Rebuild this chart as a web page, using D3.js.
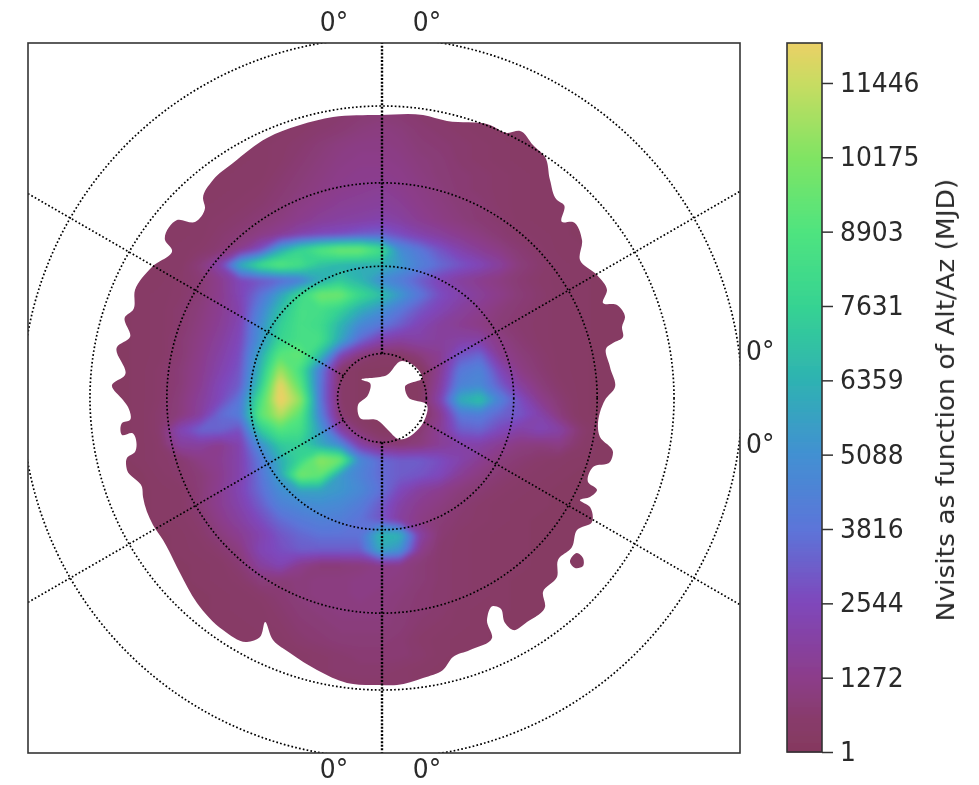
<!DOCTYPE html>
<html><head><meta charset="utf-8">
<style>html,body{margin:0;padding:0;background:#fff}svg{display:block}text{font-family:"DejaVu Sans";fill:#2a2a2a}</style>
<script src="https://cdnjs.cloudflare.com/ajax/libs/d3/7.8.5/d3.min.js"></script>
</head><body><svg id="c" width="979" height="785"></svg>
<script>
const colorbarTicks=[1,1272,2544,3816,5088,6359,7631,8903,10175,11446];
const colorbarMax=12130;
const colorbarLabel="Nvisits as function of Alt/Az (MJD)";
const ringZenithDeg=[10,30,50,70,90];
const spokeAzimuthDeg=[30,90,150,210,270,330];
const cornerLabel="0°";
const colorStopValues=[1,600,1272,2544,3816,5088,6359,7631,8903,10175,11446,12130];
const colorStopHex=["#85395e","#883b6c","#8c3d8a","#7f47bb","#5c75d9","#4290d2","#2eb2b2","#36d392","#4fe47f","#80e463","#c8dc62","#ebd066"];
// Nvisits in hundreds; rows run downward from the top of the footprint, columns left to right
const nvisitsHundreds=[
[3,3,3,3,3,3,3,3,3,4,4,5,6,7,8,7,6,5,4,4,3,3,3,3,3,3,3,3],
[3,3,3,3,3,3,3,3,4,4,5,6,7,8,9,8,7,6,5,4,4,3,3,3,3,3,3,3],
[3,3,3,3,3,3,3,4,4,5,6,7,8,10,11,10,8,7,6,5,4,4,3,3,3,3,3,3],
[3,3,3,3,3,3,4,4,5,6,7,9,11,12,12,11,9,8,7,6,5,4,3,3,3,3,3,3],
[3,3,3,3,3,3,4,4,5,6,8,10,12,13,13,12,10,9,7,6,5,4,4,3,3,3,3,3],
[3,3,3,3,3,4,4,5,5,7,9,11,13,14,14,13,11,9,8,7,6,5,4,3,3,3,3,3],
[3,3,3,3,3,4,4,5,6,8,10,12,14,15,16,14,12,10,8,7,6,5,4,4,3,3,3,3],
[3,3,3,3,4,4,5,6,7,9,12,14,16,17,18,16,13,11,9,8,6,5,4,4,3,3,3,3],
[3,3,3,3,4,5,6,7,9,11,14,17,19,20,22,19,15,12,10,8,7,5,4,4,3,3,3,3],
[3,3,3,4,4,5,7,9,12,16,22,26,28,32,34,28,22,18,14,11,8,6,5,4,3,3,3,3],
[3,3,3,4,5,6,8,14,28,60,78,90,98,98,85,50,40,30,22,16,12,8,6,4,4,3,3,3],
[3,3,4,4,5,10,22,62,82,92,85,70,65,62,65,55,44,36,30,25,18,10,7,5,4,3,3,3],
[3,3,4,4,6,8,14,25,30,35,42,60,72,65,50,42,32,24,18,14,11,8,6,5,4,3,3,3],
[3,3,4,5,6,9,14,24,38,58,80,98,98,80,70,55,40,28,22,17,13,9,7,5,4,3,3,3],
[3,3,4,5,7,10,15,22,45,68,85,84,76,62,52,40,30,24,18,14,10,8,6,5,4,3,3,3],
[3,3,4,5,7,11,16,24,50,75,85,82,65,48,40,32,24,18,15,12,9,7,6,5,4,3,3,3],
[3,3,4,5,8,12,18,26,52,78,85,85,60,35,22,18,20,18,20,20,12,8,6,5,4,3,3,3],
[3,3,4,5,8,13,20,28,60,92,95,68,25,10,5,5,10,15,30,35,15,10,7,5,4,3,3,3],
[3,3,4,6,9,14,22,30,65,108,85,42,6,3,3,3,3,15,40,45,25,12,8,5,4,3,3,3],
[3,3,4,6,9,15,25,32,72,122,92,40,6,3,3,3,3,18,45,48,32,18,10,6,4,3,3,3],
[3,3,4,6,10,17,26,40,85,125,105,40,6,3,3,3,3,22,62,70,45,28,14,8,4,3,3,3],
[3,3,4,7,10,18,36,42,92,112,92,45,8,3,3,3,3,14,40,42,34,30,22,10,4,3,3,3],
[3,3,4,7,24,34,34,28,72,90,85,55,20,8,3,3,8,16,32,34,26,20,24,20,8,3,3,3],
[3,3,4,6,18,18,14,22,50,72,75,60,48,20,10,8,10,16,20,20,15,11,10,12,6,3,3,3],
[3,3,4,6,7,12,15,22,40,62,78,105,98,48,36,32,32,28,22,15,10,8,6,5,4,3,3,3],
[3,3,3,5,7,9,14,22,38,58,100,95,55,45,36,32,30,26,16,11,8,6,5,4,3,3,3,3],
[3,3,3,4,5,9,15,24,36,50,58,58,54,48,38,26,18,14,10,8,6,5,4,3,3,3,3,3],
[3,3,3,4,5,9,15,22,32,44,48,50,48,42,32,20,14,11,8,6,5,4,4,3,3,3,3,3],
[3,3,3,4,5,7,13,19,27,36,41,44,43,38,30,18,12,9,7,6,5,4,3,3,3,3,3,3],
[3,3,3,3,4,6,10,15,22,30,35,38,38,38,66,64,20,8,6,5,4,4,3,3,3,3,3,3],
[3,3,3,3,4,5,7,11,24,28,32,32,32,32,60,52,14,7,6,5,4,4,3,3,3,3,3,3],
[3,3,3,3,3,4,5,8,18,24,14,9,9,10,12,12,9,7,6,5,4,4,3,3,3,3,3,3],
[3,3,3,3,3,4,5,6,10,9,10,11,11,12,12,11,9,7,6,5,4,3,3,3,3,3,3,3],
[3,3,3,3,3,3,4,5,6,8,10,11,11,12,11,10,8,7,6,5,4,3,3,3,3,3,3,3],
[3,3,3,3,3,3,4,5,5,7,9,10,11,11,11,9,8,7,5,4,4,3,3,3,3,3,3,3],
[3,3,3,3,3,3,4,4,5,6,8,9,10,10,10,9,7,6,5,4,3,3,3,3,3,3,3,3],
[3,3,3,3,3,3,3,4,4,5,7,8,9,9,9,8,6,5,4,4,3,3,3,3,3,3,3,3],
[3,3,3,3,3,3,3,3,4,4,5,6,7,8,8,8,7,5,4,4,3,3,3,3,3,3,3,3],
[3,3,3,3,3,3,3,3,3,4,5,6,7,7,7,6,5,4,3,3,3,3,3,3,3,3,3,3],
[3,3,3,3,3,3,3,3,3,3,4,5,5,6,6,6,5,4,3,3,3,3,3,3,3,3,3,3],
[3,3,3,3,3,3,3,3,3,3,3,3,3,3,3,3,3,3,3,3,3,3,3,3,3,3,3,3]
];
const gridExtentX=[-282,258];
const gridExtentY=[298,-302];
const footprintOutline=[[-2,283],[41,283],[65,277],[108,273],[125,265],[138,267],[151,253],[163,241],[168,218],[175,198],[182,193],[180,176],[191,176],[200,158],[198,138],[215,123],[225,108],[221,95],[235,93],[243,81],[240,71],[241,61],[231,55],[225,51],[228,31],[233,11],[223,-2],[218,-39],[231,-54],[228,-64],[211,-69],[206,-84],[215,-92],[208,-99],[198,-102],[208,-109],[210,-124],[195,-132],[190,-149],[176,-162],[175,-179],[161,-194],[163,-209],[145,-224],[131,-232],[123,-225],[118,-210],[111,-208],[105,-222],[110,-240],[88,-252],[71,-259],[61,-272],[41,-280],[15,-287],[-2,-287],[-35,-285],[-65,-272],[-92,-255],[-109,-242],[-117,-224],[-122,-239],[-135,-244],[-159,-232],[-185,-205],[-202,-175],[-219,-142],[-229,-127],[-239,-99],[-240,-89],[-255,-72],[-255,-60],[-247,-54],[-250,-35],[-260,-37],[-260,-25],[-252,-22],[-254,-9],[-259,-2],[-270,13],[-257,23],[-265,51],[-252,61],[-257,81],[-249,88],[-247,108],[-230,131],[-210,148],[-217,158],[-205,178],[-187,176],[-177,190],[-179,200],[-169,218],[-149,235],[-115,260],[-82,273],[-49,281]];
const footprintHole=[[20,37],[28,35],[40,20],[23,11],[26,1],[45,-7],[41,-25],[16,-41],[6,-32],[-5,-22],[-22,-20],[-24,-7],[-14,3],[-12,15],[-20,18],[5,23]];
const footprintIsland=[[188,-164],[195,-155],[201,-160],[201,-168],[193,-170]];

const svg=d3.select("#c");
const frame={left:28,right:740,top:43,bottom:753};
const cx=382,cy=398,horizon=360;
const x=d3.scaleLinear().domain([-horizon,horizon]).range([cx-horizon,cx+horizon]);
const y=d3.scaleLinear().domain([-horizon,horizon]).range([cy+horizon,cy-horizon]);
const ringR=z=>horizon*Math.sin(z*Math.PI/360)/Math.SQRT1_2;
const color=d3.scaleLinear().domain(colorStopValues).range(colorStopHex).clamp(true);

const defs=svg.append("defs");
const f=defs.append("filter").attr("id","blur").attr("filterUnits","userSpaceOnUse").attr("x",0).attr("y",0).attr("width",979).attr("height",785);
f.append("feGaussianBlur").attr("stdDeviation",2.8);
const soft=defs.append("filter").attr("id","soft").attr("filterUnits","userSpaceOnUse").attr("x",0).attr("y",0).attr("width",979).attr("height",785);
soft.append("feGaussianBlur").attr("stdDeviation",0.7);
defs.append("clipPath").attr("id","axesClip").append("rect")
 .attr("x",frame.left).attr("y",frame.top).attr("width",frame.right-frame.left).attr("height",frame.bottom-frame.top);
const ol=d3.line().x(d=>x(d[0])).y(d=>y(d[1])).curve(d3.curveCatmullRomClosed.alpha(1));
defs.append("clipPath").attr("id","footClip").append("path")
 .attr("clip-rule","evenodd").attr("d",ol(footprintOutline)+ol(footprintHole)+ol(footprintIsland));

const root=svg.append("g").attr("filter","url(#soft)");
// heat field
const nRows=nvisitsHundreds.length,nCols=nvisitsHundreds[0].length;
nvisitsHundreds.forEach((r,i)=>{if(r.length!==nCols)throw new Error("row "+i+" len "+r.length)});
const flat=nvisitsHundreds.flat().map(v=>v*100);
const thresholds=d3.range(150,12600,100);
const contours=d3.contours().size([nCols,nRows]).thresholds(thresholds)(flat);
const gx=d3.scaleLinear().domain([0.5,nCols-0.5]).range(gridExtentX);
const gy=d3.scaleLinear().domain([0.5,nRows-0.5]).range(gridExtentY);
const proj=d3.geoTransform({point(a,b){this.stream.point(x(gx(a)),y(gy(b)))}});
const pathGen=d3.geoPath(proj);
const heat=root.append("g").attr("clip-path","url(#footClip)").append("g").attr("filter","url(#blur)");
heat.append("rect").attr("x",0).attr("y",0).attr("width",979).attr("height",785).attr("fill",color(300));
heat.selectAll("path").data(contours).join("path").attr("d",pathGen).attr("fill",d=>color(d.value)).attr("stroke",d=>color(d.value)).attr("stroke-width",0.5);

// grid
const grid=root.append("g").attr("clip-path","url(#axesClip)");
grid.selectAll("circle").data(ringZenithDeg).join("circle")
 .attr("cx",x(0)).attr("cy",y(0)).attr("r",ringR).attr("fill","none").attr("stroke","#000").attr("stroke-width",1.7).attr("stroke-dasharray","1.7 2.2");
grid.selectAll("line").data(spokeAzimuthDeg).join("line")
 .attr("x1",d=>x(0)+ringR(10)*Math.cos(d*Math.PI/180)).attr("y1",d=>y(0)+ringR(10)*Math.sin(d*Math.PI/180))
 .attr("x2",d=>x(0)+520*Math.cos(d*Math.PI/180)).attr("y2",d=>y(0)+520*Math.sin(d*Math.PI/180))
 .attr("stroke","#000").attr("stroke-width",d=>(d===90||d===270)?2.4:1.7).attr("stroke-dasharray",d=>(d===90||d===270)?"2 1.6":"1.7 2.2");

root.append("rect").attr("x",frame.left).attr("y",frame.top).attr("width",frame.right-frame.left).attr("height",frame.bottom-frame.top)
 .attr("fill","none").attr("stroke","#333").attr("stroke-width",1.6);

// labels
const fs=25,stretch=1.08;
const placed=(p,anchor)=>root.append("text").attr("transform",`translate(${p[0]},${p[1]}) scale(1,${stretch})`).attr("text-anchor",anchor).attr("font-size",fs).text(cornerLabel);
[[334,31],[427,31],[334,778],[427,778]].forEach(p=>placed(p,"middle"));
[[746,360],[746,453]].forEach(p=>placed(p,"start"));

// colorbar
const barL=787,barR=822;
const cy2=d3.scaleLinear().domain([1,colorbarMax]).range([752,43]);
root.append("g").selectAll("rect").data(d3.range(0,709)).join("rect")
 .attr("x",barL).attr("width",barR-barL).attr("y",d=>43+d).attr("height",1.5)
 .attr("fill",d=>color(cy2.invert(43+d+0.5)));
root.append("rect").attr("x",barL).attr("y",43).attr("width",barR-barL).attr("height",709).attr("fill","none").attr("stroke","#333").attr("stroke-width",1.6);
const ax=root.append("g").attr("transform",`translate(${barR},0)`).call(d3.axisRight(cy2).tickValues(colorbarTicks).tickFormat(d3.format("d")).tickSize(11).tickPadding(7));
ax.select(".domain").remove();
ax.selectAll("line").attr("stroke","#333").attr("stroke-width",1.5);
ax.selectAll("text").attr("font-size",fs).attr("font-family","DejaVu Sans").attr("fill","#2a2a2a").attr("transform",`scale(1,${stretch})`).attr("dy","0.32em");
root.append("text").attr("transform",`translate(954,400) rotate(-90) scale(1.06,1)`).attr("text-anchor","middle").attr("font-size",fs).text(colorbarLabel);
</script></body></html>
